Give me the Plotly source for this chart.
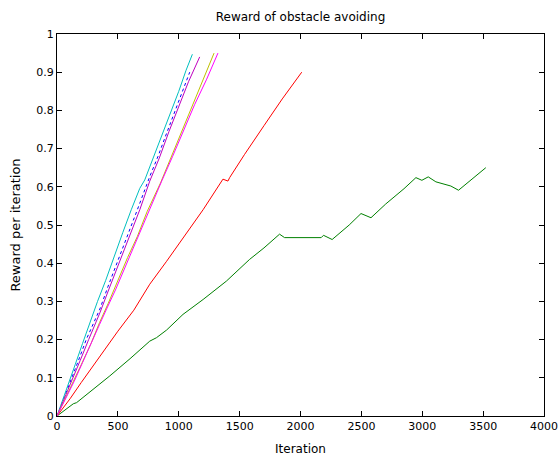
import plotly.graph_objects as go

# Data (iteration, reward per iteration)
blue_x = [0, 50, 110, 170, 240, 300, 352, 420, 500, 580, 660, 762, 830, 900, 970, 1040, 1090]
blue_y = [0, 0.04, 0.09, 0.14, 0.2, 0.245, 0.28, 0.34, 0.405, 0.47, 0.54, 0.627, 0.68, 0.74, 0.80, 0.855, 0.90]

green_x = [0, 60, 134, 161, 200, 300, 434, 600, 762, 817, 900, 1035, 1200, 1391, 1582, 1700, 1828,
           1869, 2170, 2189, 2260, 2400, 2497, 2579, 2700, 2850, 2948, 2997, 3049, 3112, 3235, 3298,
           3331, 3450, 3522]
green_y = [0, 0.015, 0.032, 0.035, 0.045, 0.07, 0.105, 0.15, 0.196, 0.205, 0.225, 0.266, 0.305, 0.353,
           0.41, 0.44, 0.476, 0.467, 0.467, 0.473, 0.462, 0.50, 0.530, 0.519, 0.555, 0.595, 0.624,
           0.617, 0.626, 0.613, 0.602, 0.591, 0.600, 0.630, 0.650]

red_x = [0, 50, 107, 200, 300, 400, 500, 631, 762, 900, 1035, 1200, 1363, 1404, 1418, 1541, 1700,
         1850, 2010]
red_y = [0, 0.02, 0.045, 0.088, 0.133, 0.178, 0.222, 0.277, 0.345, 0.405, 0.466, 0.54, 0.62, 0.615,
         0.624, 0.685, 0.76, 0.83, 0.90]

cyan_x = [0, 40, 90, 150, 210, 270, 333, 400, 470, 540, 610, 680, 721, 790, 860, 930, 1000, 1060, 1112]
cyan_y = [0, 0.035, 0.08, 0.135, 0.19, 0.245, 0.30, 0.355, 0.42, 0.48, 0.54, 0.596, 0.618, 0.675, 0.735,
          0.79, 0.85, 0.905, 0.947]

purple_x = [0, 60, 120, 190, 260, 352, 430, 510, 590, 680, 762, 840, 920, 1000, 1080, 1172]
purple_y = [0, 0.045, 0.09, 0.145, 0.2, 0.27, 0.335, 0.4, 0.47, 0.54, 0.615, 0.675, 0.745, 0.81, 0.875, 0.94]

yellow_x = [0, 60, 130, 200, 280, 350, 421, 500, 580, 660, 740, 850, 940, 1030, 1120, 1200, 1290]
yellow_y = [0, 0.04, 0.085, 0.135, 0.19, 0.245, 0.295, 0.355, 0.415, 0.47, 0.535, 0.61, 0.68, 0.745,
            0.82, 0.88, 0.95]

pink_x = [0, 70, 140, 210, 290, 350, 407, 480, 560, 640, 700, 776, 860, 950, 1040, 1130, 1227, 1322]
pink_y = [0, 0.045, 0.09, 0.14, 0.2, 0.24, 0.28, 0.33, 0.39, 0.45, 0.5, 0.555, 0.615, 0.68, 0.75, 0.815,
          0.88, 0.95]

x_ticks = [0, 500, 1000, 1500, 2000, 2500, 3000, 3500, 4000]
y_ticks = [0, 0.1, 0.2, 0.3, 0.4, 0.5, 0.6, 0.7, 0.8, 0.9, 1]

series = [
    (blue_x, blue_y, "#0000FF", "3px,3px"),
    (green_x, green_y, "#008000", "solid"),
    (red_x, red_y, "#FF0000", "solid"),
    (cyan_x, cyan_y, "#00BFBF", "solid"),
    (purple_x, purple_y, "#BF00BF", "solid"),
    (yellow_x, yellow_y, "#BFBF00", "solid"),
    (pink_x, pink_y, "#FF00FF", "solid"),
]

fig = go.Figure()
for xs, ys, col, dash in series:
    fig.add_trace(go.Scatter(x=xs, y=ys, mode="lines",
                             line=dict(color=col, width=1, dash=dash),
                             showlegend=False))

FAM = "DejaVu Sans, Verdana, sans-serif"
tick_font = dict(family=FAM, size=11, color="black")
label_font = dict(family=FAM, size=12, color="black")
ylabel_font = dict(family=FAM, size=13, color="black")

W, H = 560, 456
L, R, T, B = 57, 16, 34, 40

fig.update_layout(
    width=W, height=H,
    margin=dict(l=L, r=R, t=T, b=B, autoexpand=False),
    paper_bgcolor="white", plot_bgcolor="white",
    font=tick_font,
    title=dict(text="Reward of obstacle avoiding", x=(L + (W - R)) / 2 / W, xanchor="center",
               y=1 - 17 / H, yanchor="middle", font=label_font, automargin=False),
    xaxis=dict(range=[0, 4000], tickvals=x_ticks, ticktext=[str(v) for v in x_ticks],
               ticks="inside", ticklen=5, tickcolor="black", showline=True, linecolor="black",
               linewidth=1, mirror="ticks", showgrid=False, zeroline=False, automargin=False,
               ticklabeloverflow="allow",
               title=dict(text="Iteration", standoff=13, font=label_font), tickfont=tick_font),
    yaxis=dict(range=[0, 1], tickvals=y_ticks, ticktext=[f"{v:g}" for v in y_ticks],
               ticks="inside", ticklen=5, tickcolor="black", showline=True, linecolor="black",
               linewidth=1, mirror="ticks", showgrid=False, zeroline=False, automargin=False,
               ticklabeloverflow="allow",
               title=dict(text="Reward per iteration", standoff=12, font=ylabel_font),
               tickfont=tick_font),
)

fig.write_html("out.html",
               config={"displayModeBar": False},
               post_script="document.body.style.margin='0';document.body.style.overflow='hidden';")
